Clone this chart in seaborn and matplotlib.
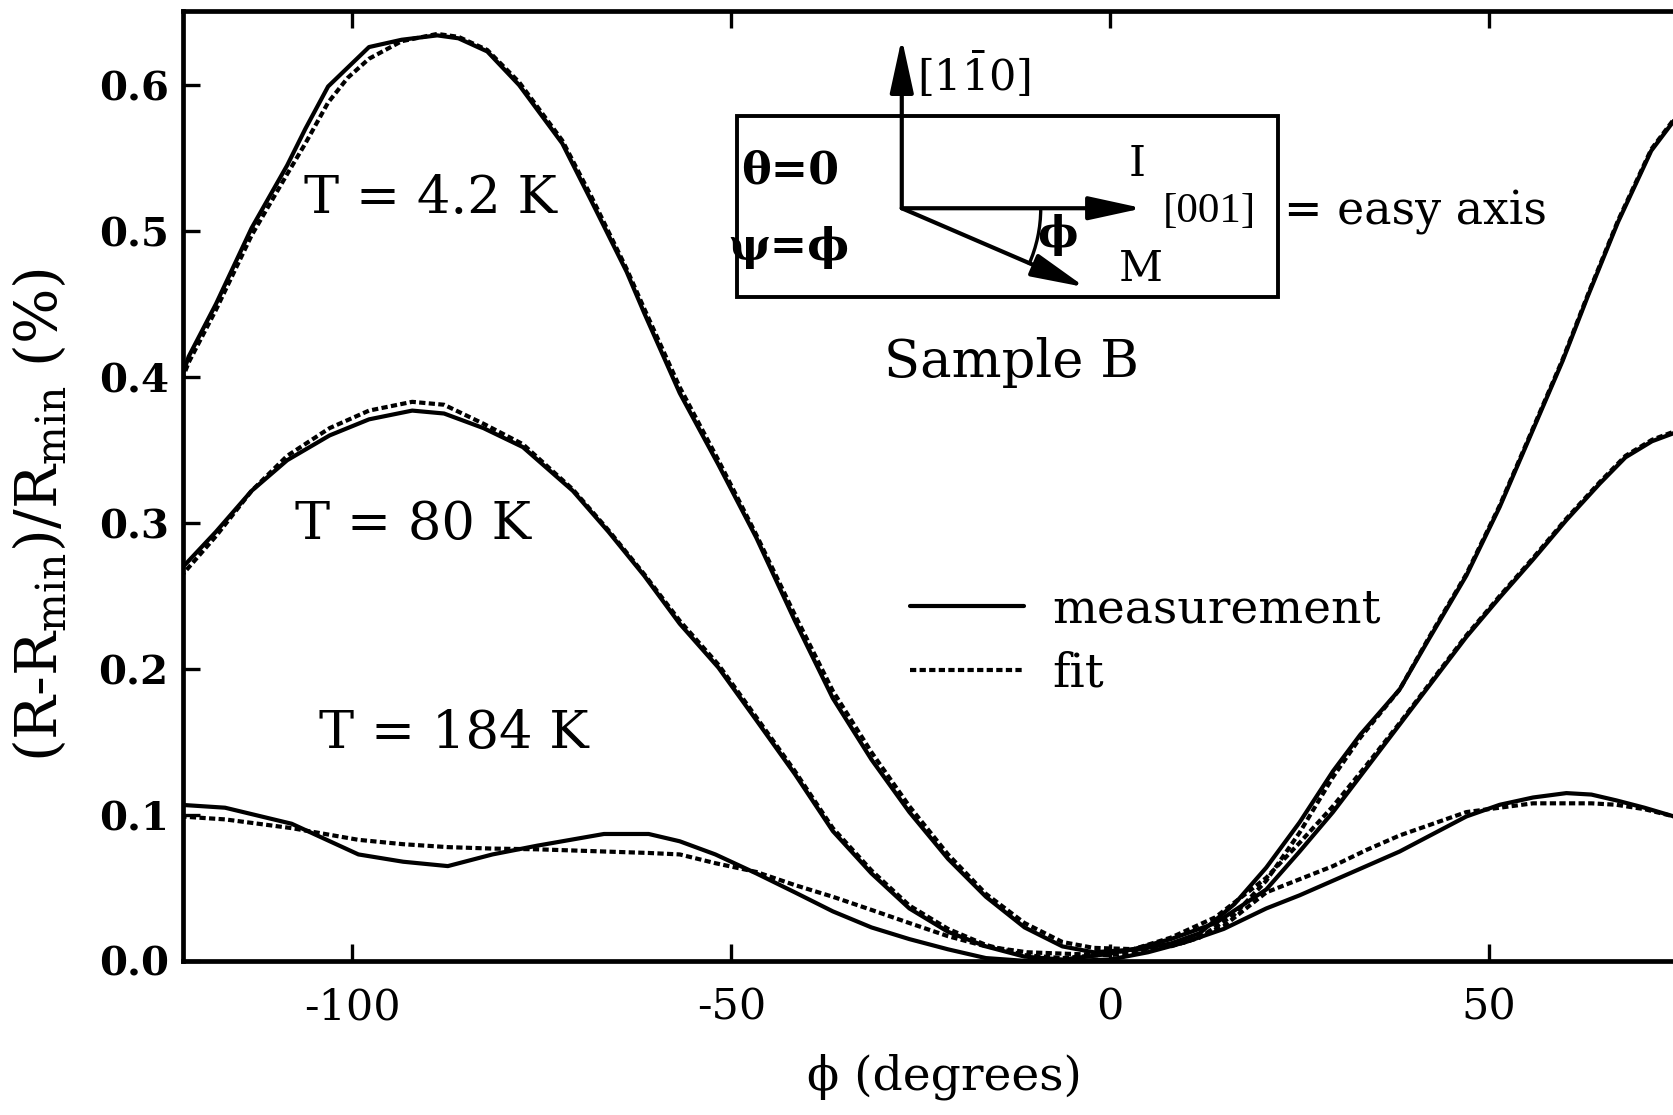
import numpy as np
import pandas as pd
import matplotlib
matplotlib.use("Agg")
import matplotlib.pyplot as plt
from matplotlib.lines import Line2D
from matplotlib.patches import Arc, Rectangle
import seaborn as sns

# ---------------- data ----------------
phi_42 = [-122.5, -121.6, -118.0, -113.3, -108.6, -106.2, -103.2, -100.6, -97.8, -93.5,
          -88.8, -86.0, -82.2, -78.0, -72.3, -68.5, -63.8, -61.5, -56.8, -51.7,
          -46.7, -41.6, -36.6, -31.5, -26.5, -21.4, -16.4, -11.3, -6.3, -2.2,
          3.8, 8.0, 11.8, 16.4, 20.6, 25.0, 29.4, 33.0, 38.2, 42.0,
          47.0, 51.4, 55.8, 59.7, 63.0, 67.0, 71.4, 74.6]
meas_42 = [0.400, 0.414, 0.450, 0.502, 0.545, 0.570, 0.599, 0.612, 0.626, 0.631,
           0.634, 0.632, 0.623, 0.600, 0.560, 0.521, 0.472, 0.444, 0.389, 0.340,
           0.290, 0.233, 0.180, 0.138, 0.102, 0.070, 0.044, 0.023, 0.010, 0.006,
           0.008, 0.012, 0.019, 0.039, 0.064, 0.095, 0.130, 0.155, 0.186, 0.220,
           0.264, 0.311, 0.364, 0.411, 0.455, 0.506, 0.555, 0.577]
fit_42 = [0.398, 0.410, 0.446, 0.497, 0.539, 0.560, 0.588, 0.605, 0.618, 0.630,
          0.635, 0.633, 0.624, 0.602, 0.562, 0.524, 0.474, 0.447, 0.393, 0.343,
          0.292, 0.237, 0.185, 0.143, 0.106, 0.073, 0.046, 0.026, 0.013, 0.009,
          0.008, 0.010, 0.016, 0.032, 0.055, 0.088, 0.126, 0.153, 0.186, 0.221,
          0.265, 0.312, 0.365, 0.412, 0.456, 0.507, 0.556, 0.578]

phi_80 = [-122.7, -118.0, -113.3, -108.6, -103.0, -97.8, -92.1, -87.9, -82.7, -77.5,
          -70.9, -66.2, -61.5, -56.8, -51.7, -46.7, -41.6, -36.6, -31.5, -26.5,
          -21.4, -16.4, -11.3, -6.3, -1.5, 3.0, 8.0, 13.9, 20.6, 25.0,
          29.4, 33.8, 38.2, 42.6, 47.0, 51.4, 55.8, 60.2, 64.6, 68.0,
          71.5, 74.6]
meas_80 = [0.268, 0.294, 0.322, 0.343, 0.360, 0.371, 0.377, 0.375, 0.365, 0.352,
           0.322, 0.294, 0.264, 0.231, 0.201, 0.165, 0.128, 0.089, 0.060, 0.036,
           0.020, 0.010, 0.003, 0.001, 0.004, 0.008, 0.015, 0.026, 0.049, 0.075,
           0.102, 0.132, 0.162, 0.192, 0.222, 0.249, 0.275, 0.302, 0.327, 0.345,
           0.356, 0.362]
fit_80 = [0.263, 0.291, 0.322, 0.346, 0.365, 0.377, 0.383, 0.381, 0.368, 0.354,
          0.323, 0.295, 0.265, 0.233, 0.203, 0.167, 0.130, 0.091, 0.062, 0.038,
          0.022, 0.011, 0.004, 0.002, 0.004, 0.008, 0.016, 0.030, 0.057, 0.081,
          0.106, 0.134, 0.163, 0.193, 0.223, 0.250, 0.276, 0.303, 0.328, 0.346,
          0.357, 0.363]

phi_184 = [-122.7, -116.8, -108.0, -99.2, -93.3, -87.4, -81.5, -75.6, -66.8, -60.9,
           -56.8, -52.1, -46.7, -41.6, -36.6, -31.5, -26.5, -21.4, -16.4, -11.0,
           -6.0, 0.0, 5.0, 10.0, 15.0, 20.6, 25.0, 29.4, 33.8, 38.2,
           42.6, 47.0, 51.4, 55.8, 60.2, 63.5, 66.8, 70.5, 74.4]
meas_184 = [0.107, 0.105, 0.094, 0.073, 0.068, 0.065, 0.073, 0.079, 0.087, 0.087,
            0.082, 0.073, 0.060, 0.047, 0.034, 0.023, 0.015, 0.008, 0.002, 0.000,
            0.000, 0.001, 0.006, 0.013, 0.022, 0.036, 0.045, 0.055, 0.065, 0.075,
            0.087, 0.099, 0.107, 0.112, 0.115, 0.114, 0.110, 0.105, 0.099]
fit_184 = [0.099, 0.097, 0.091, 0.083, 0.080, 0.078, 0.077, 0.0765, 0.075, 0.074,
           0.073, 0.067, 0.061, 0.052, 0.044, 0.035, 0.026, 0.017, 0.010, 0.006,
           0.005, 0.004, 0.007, 0.013, 0.024, 0.047, 0.056, 0.065, 0.076, 0.086,
           0.094, 0.102, 0.105, 0.108, 0.108, 0.108, 0.107, 0.104, 0.099]

x_ticks = [-100, -50, 0, 50]
y_ticks = [0.0, 0.1, 0.2, 0.3, 0.4, 0.5, 0.6]

# ---------------- style ----------------
sns.set_style("ticks")
plt.rcParams['font.family'] = ['DejaVu Serif', 'DejaVu Sans']
plt.rcParams['mathtext.fontset'] = 'dejavuserif'
for k in ['text.color', 'axes.labelcolor', 'xtick.color', 'ytick.color', 'axes.edgecolor']:
    plt.rcParams[k] = 'black'

W, H = 1674, 1115
fig = plt.figure(figsize=(W / 100, H / 100), dpi=100)
ax = fig.add_axes([182.6 / W, (H - 961) / H, (W - 182.6) / W, (961 - 11) / H])

LW = 3.0
DOT = (0, (1.5, 0.8))
series = [(phi_42, meas_42, fit_42), (phi_80, meas_80, fit_80), (phi_184, meas_184, fit_184)]
for ph, m, f in series:
    sns.lineplot(x=ph, y=f, ax=ax, color='black', lw=LW, linestyle=DOT, sort=False)
    sns.lineplot(x=ph, y=m, ax=ax, color='black', lw=LW, linestyle='-', sort=False)

ax.set_xlim(-122.4, 74.4)
ax.set_ylim(0.0, 0.6507)
ax.set_xticks(x_ticks)
ax.set_xticklabels([str(v) for v in x_ticks])
ax.set_yticks(y_ticks)
ax.set_yticklabels([f"{v:.1f}" for v in y_ticks])

for s in ['left', 'bottom', 'top']:
    ax.spines[s].set_linewidth(3.4)
    ax.spines[s].set_color('black')
ax.spines['right'].set_visible(False)
ax.tick_params(axis='both', which='major', direction='in', length=12, width=2.4,
               top=True, right=False, color='black', labelcolor='black')
ax.tick_params(axis='x', labelsize=31, pad=18)
ax.tick_params(axis='y', labelsize=29, pad=10)
for lab in ax.get_yticklabels():
    lab.set_fontweight('bold')

ax.set_xlabel('ϕ (degrees)', fontsize=34)
ax.xaxis.set_label_coords(0.511, -0.097)
ax.set_ylabel(r'(R-R$_{\rm min}$)/R$_{\rm min}$ (%)', fontsize=42)
ax.yaxis.set_label_coords(-0.076, 0.47)

# curve labels
fs_lab = 38
ax.text(-89.7, 0.522, 'T = 4.2 K', fontsize=fs_lab, ha='center', va='center')
ax.text(-92.0, 0.299, 'T = 80 K', fontsize=fs_lab, ha='center', va='center')
ax.text(-86.6, 0.156, 'T = 184 K', fontsize=fs_lab, ha='center', va='center')
ax.text(-13.0, 0.410, 'Sample B', fontsize=fs_lab, ha='center', va='center')

# legend
handles = [Line2D([], [], color='black', lw=LW, linestyle='-'),
           Line2D([], [], color='black', lw=LW, linestyle=DOT)]
leg = ax.legend(handles, ['measurement', 'fit'], loc='center left',
                bbox_to_anchor=(0.488, 0.336), frameon=False, fontsize=34,
                handlelength=2.4, handletextpad=0.6, labelspacing=0.38,
                borderpad=0.0, borderaxespad=0.0)

# inset diagram
px_x = 7.58     # pixels per degree
px_y = 1460.0   # pixels per unit
box = Rectangle((-49.3, 0.455), 22.1 + 49.3, 0.579 - 0.455, fill=False,
                lw=2.8, edgecolor='black', zorder=5)
ax.add_patch(box)
ox, oy = -27.5, 0.5156
arrow_kw = dict(arrowstyle='-|>,head_length=1.1,head_width=0.24', lw=3.0,
                color='black', mutation_scale=30, shrinkA=0, shrinkB=0)
ax.annotate('', xy=(ox, 0.632), xytext=(ox, oy), arrowprops=arrow_kw, zorder=6)
ax.annotate('', xy=(4.3, oy), xytext=(ox, oy), arrowprops=arrow_kw, zorder=6)
ax.annotate('', xy=(-3.3, 0.4615), xytext=(ox, oy), arrowprops=arrow_kw, zorder=6)


def data_angle(screen_deg):
    t = np.radians(screen_deg)
    return np.degrees(np.arctan2(np.sin(t) / px_y, np.cos(t) / px_x))


r_px = 139.0
ax.add_patch(Arc((ox, oy), 2 * r_px / px_x, 2 * r_px / px_y,
                 theta1=data_angle(-24.0), theta2=0.0,
                 lw=2.4, color='black', zorder=6))

fs_in = 31
ax.text(-42.2, 0.541, 'θ=0', fontsize=32, ha='center', va='center', fontweight='bold')
ax.text(-42.4, 0.489, 'ψ=ϕ', fontsize=32, ha='center', va='center', fontweight='bold')
ax.text(-25.5, 0.607, r'[1$\bar{\mathrm{1}}$0]', fontsize=fs_in, ha='left', va='center')
ax.text(3.5, 0.546, 'I', fontsize=fs_in, ha='center', va='center')
ax.text(-7.0, 0.497, 'ϕ', fontsize=fs_in, ha='center', va='center', fontweight='bold')
ax.text(4.0, 0.474, 'M', fontsize=fs_in, ha='center', va='center')
ax.text(7.0, 0.513, '[001]', fontsize=31, ha='left', va='center',
        family=['Liberation Serif', 'DejaVu Serif'])
ax.text(23.0, 0.513, '= easy axis', fontsize=33, ha='left', va='center')

fig.savefig('out.png', dpi=100)
